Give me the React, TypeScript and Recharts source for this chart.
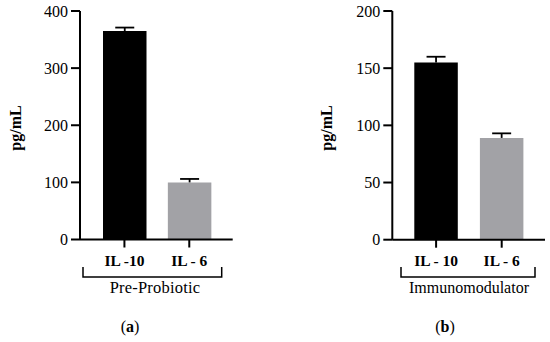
import React from 'react';
import { BarChart, Bar, XAxis, YAxis, Cell } from 'recharts';

const categoriesA = ['IL -10', 'IL - 6'];
const valuesA = [365, 100];
const errorsA = [6, 6];
const ticksA = [0, 100, 200, 300, 400];
const groupA = 'Pre-Probiotic';

const categoriesB = ['IL - 10', 'IL - 6'];
const valuesB = [155, 89];
const errorsB = [5, 4];
const ticksB = [0, 50, 100, 150, 200];
const groupB = 'Immunomodulator';

const barColors = ['#000000', '#a2a2a6'];
const yLabel = 'pg/mL';

const FONT = '"Liberation Serif", "Times New Roman", serif';

const dataA = categoriesA.map((name, i) => ({ name, value: valuesA[i], err: errorsA[i] }));
const dataB = categoriesB.map((name, i) => ({ name, value: valuesB[i], err: errorsB[i] }));

const ErrorShape = (props: any) => {
  const { x, y, width, height } = props;
  const cx = x + width / 2;
  return (
    <g>
      <line x1={cx} y1={y + height} x2={cx} y2={y} stroke="#000" strokeWidth={1.8} />
      <line x1={cx - 9.5} y1={y} x2={cx + 9.5} y2={y} stroke="#000" strokeWidth={1.8} />
    </g>
  );
};

const Panel = ({ data, ticks, max, margin, padding }: any) => (
  <BarChart width={275} height={342} data={data} margin={margin} barSize={43.5}>
    <XAxis
      dataKey="name"
      height={30}
      padding={padding}
      axisLine={{ stroke: '#000', strokeWidth: 2 }}
      tickLine={{ stroke: '#000', strokeWidth: 2 }}
      tickSize={8}
      tickMargin={7}
      tick={{ fill: '#000', fontSize: 15.5, fontWeight: 'bold', fontFamily: FONT }}
    />
    <YAxis
      width={60}
      domain={[0, max]}
      ticks={ticks}
      interval={0}
      axisLine={{ stroke: '#000', strokeWidth: 2 }}
      tickLine={{ stroke: '#000', strokeWidth: 2 }}
      tickSize={9}
      tickMargin={3}
      tick={{ fill: '#000', fontSize: 16, fontFamily: FONT }}
    />
    <Bar dataKey="value" stackId="s" isAnimationActive={false}>
      {data.map((_: any, i: number) => (
        <Cell key={i} fill={barColors[i]} />
      ))}
    </Bar>
    <Bar dataKey="err" stackId="s" isAnimationActive={false} shape={<ErrorShape />} />
  </BarChart>
);

export default function App() {
  return (
    <div style={{ position: 'absolute', left: 0, top: 0, width: 550, height: 342, background: '#fff' }}>
      <div style={{ position: 'absolute', left: 0, top: 0 }}>
        <Panel
          data={dataA}
          ticks={ticksA}
          max={400}
          margin={{ top: 11, right: 42.3, bottom: 72.5, left: 20 }}
          padding={{ left: 12, right: 11 }}
        />
      </div>
      <div style={{ position: 'absolute', left: 275, top: 0 }}>
        <Panel
          data={dataB}
          ticks={ticksB}
          max={200}
          margin={{ top: 11, right: 5, bottom: 72.3, left: 57.3 }}
          padding={{ left: 11, right: 10.5 }}
        />
      </div>
      <svg
        width={550}
        height={342}
        style={{ position: 'absolute', left: 0, top: 0, pointerEvents: 'none' }}
        fontFamily={FONT}
      >
        <text x={15} y={128} transform="rotate(-90,15,128)" textAnchor="middle" dominantBaseline="central" fontSize={16} fontWeight="bold" fill="#000">{yLabel}</text>
        <text x={326.7} y={128} transform="rotate(-90,326.7,128)" textAnchor="middle" dominantBaseline="central" fontSize={16} fontWeight="bold" fill="#000">{yLabel}</text>
        <path d="M83,267 V277 H221.7 V267" fill="none" stroke="#000" strokeWidth={1.5} />
        <path d="M401,267 V277 H535 V267" fill="none" stroke="#000" strokeWidth={1.5} />
        <text x={155} y={293} textAnchor="middle" fontSize={16.5} letterSpacing={0.2} fill="#000">{groupA}</text>
        <text x={469} y={293} textAnchor="middle" fontSize={16} fill="#000">{groupB}</text>
        <text x={130} y={332} textAnchor="middle" fontSize={16} fill="#000">(<tspan fontWeight="bold">a</tspan>)</text>
        <text x={445} y={332} textAnchor="middle" fontSize={16} fill="#000">(<tspan fontWeight="bold">b</tspan>)</text>
      </svg>
    </div>
  );
}
